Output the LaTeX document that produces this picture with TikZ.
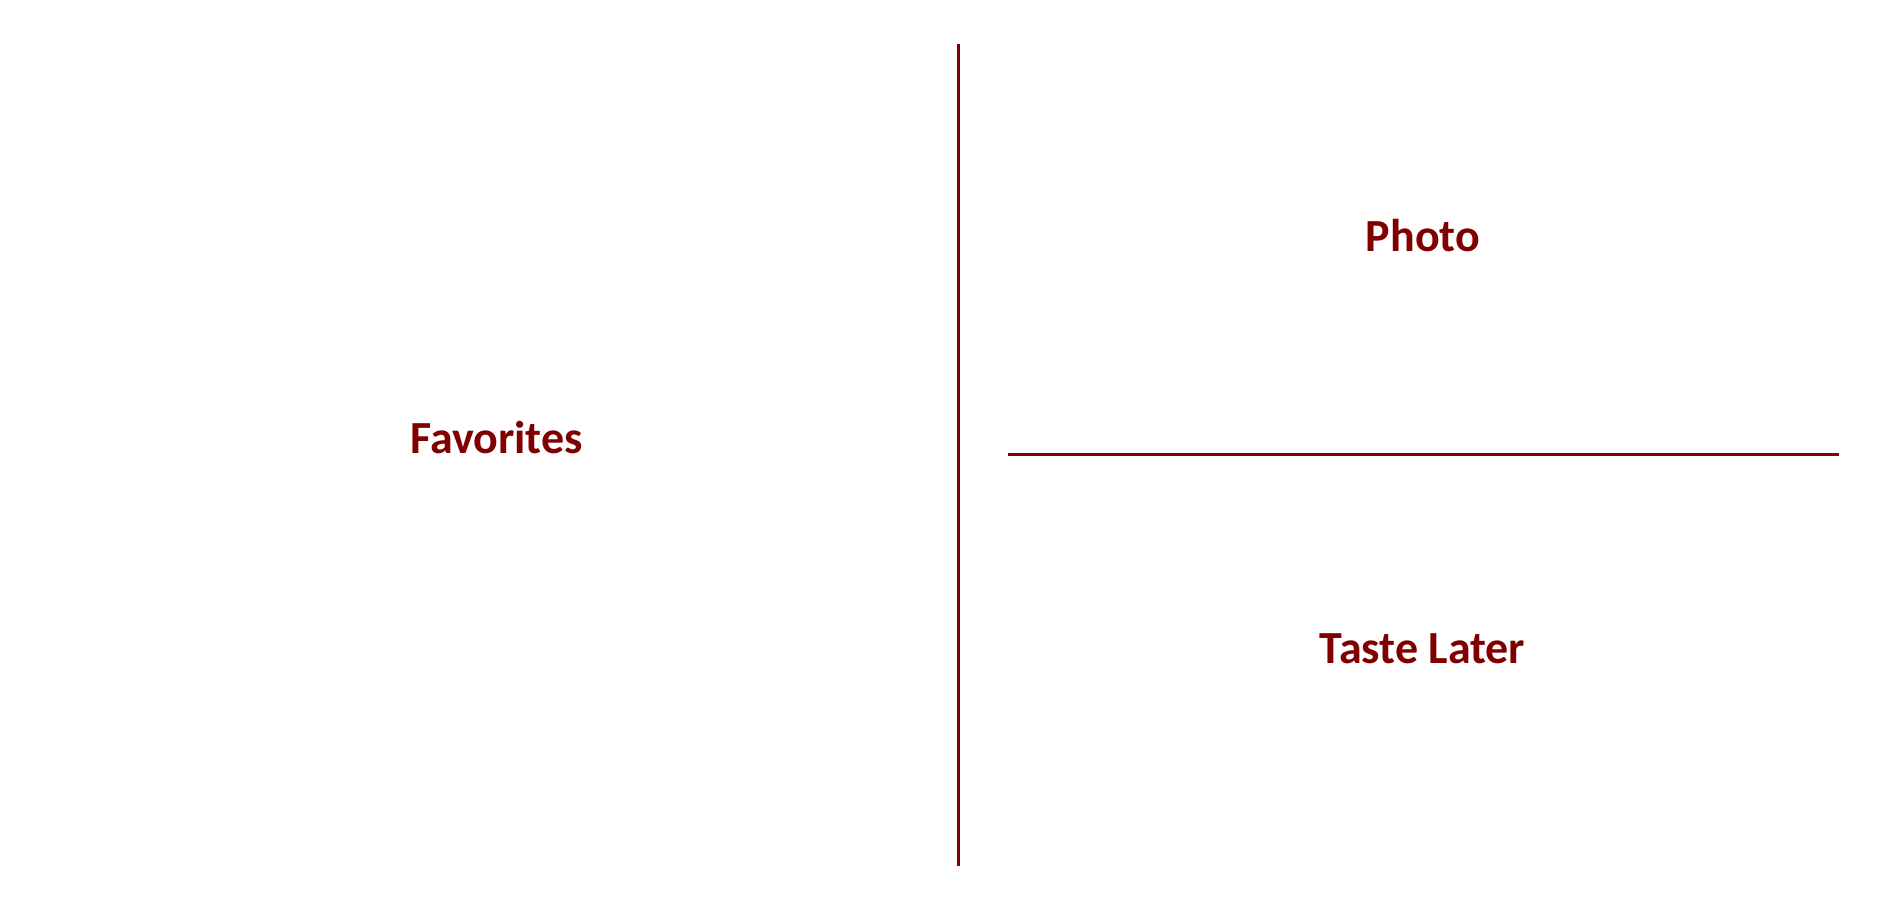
\documentclass[tikz,border=0pt]{standalone}
\usepackage{fontspec}
\setmainfont{Carlito}
\definecolor{maroonline}{RGB}{128,0,0}
\begin{document}
\begin{tikzpicture}[x=0.5pt,y=-0.5pt,
  label/.style={text=maroonline,font=\fontsize{23}{27}\selectfont\bfseries,inner sep=0pt,anchor=base},
  divider/.style={draw=maroonline,line width=1.5pt}]
\useasboundingbox (0,0) rectangle (1880,909);
\node[label] (fav) at (496.5,453.3) {Favorites};
\node[label] (photo) at (1423,251.7) {Photo};
\node[label] (later) at (1422.5,663.3) {Taste Later};
\coordinate (vtop) at (958.3,44);
\coordinate (vbot) at (958.3,866);
\coordinate (hl) at (1008,454);
\coordinate (hr) at (1839,454);
\draw[divider] (vtop) -- (vbot);
\draw[divider] (hl) -- (hr);
\end{tikzpicture}
\end{document}
